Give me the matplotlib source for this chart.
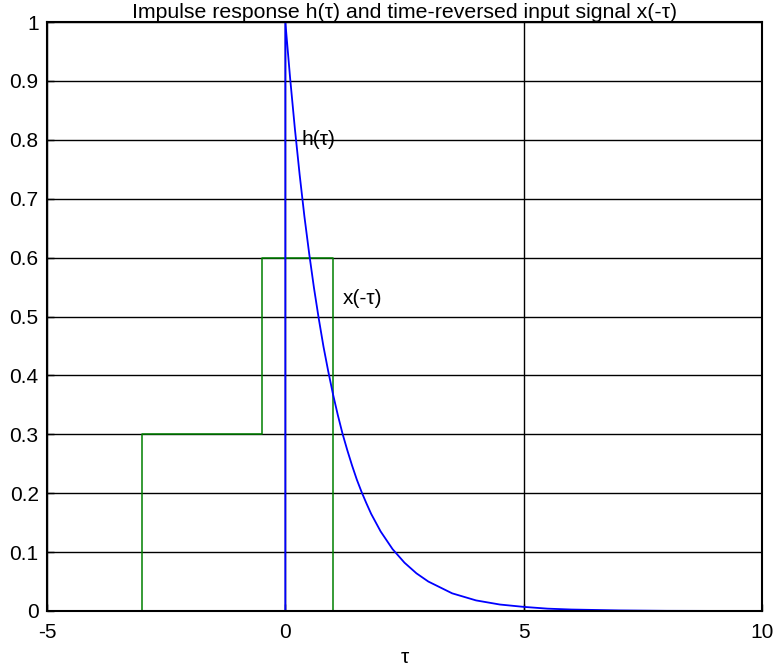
import matplotlib
matplotlib.use("Agg")
import matplotlib.pyplot as plt

plt.rcParams['font.family'] = ['Liberation Sans', 'DejaVu Sans']

# impulse response h(tau)
h_tau = [0, 0, 0.1, 0.2, 0.3, 0.4, 0.5, 0.6, 0.7, 0.8, 0.9, 1.0, 1.1, 1.2, 1.3, 1.4,
         1.5, 1.6, 1.7, 1.8, 1.9, 2.0, 2.25, 2.5, 2.75, 3.0, 3.5, 4.0, 4.5, 5.0,
         5.5, 6.0, 7.0, 8.0, 10.0]
h_val = [0, 1.0, 0.905, 0.819, 0.741, 0.670, 0.607, 0.549, 0.497, 0.449, 0.407,
         0.368, 0.333, 0.301, 0.273, 0.247, 0.223, 0.202, 0.183, 0.165, 0.150,
         0.135, 0.105, 0.082, 0.064, 0.050, 0.030, 0.018, 0.011, 0.007,
         0.004, 0.0025, 0.001, 0.0003, 0.0]

# time-reversed input x(-tau)
x_tau = [-3, -3, -0.5, -0.5, 1, 1]
x_val = [0, 0.3, 0.3, 0.6, 0.6, 0]

x_ticks = [-5, 0, 5, 10]
y_ticks = [0, 0.1, 0.2, 0.3, 0.4, 0.5, 0.6, 0.7, 0.8, 0.9, 1]
y_ticklabels = ['0', '0.1', '0.2', '0.3', '0.4', '0.5', '0.6', '0.7', '0.8', '0.9', '1']

fig = plt.figure(figsize=(7.74, 6.70), dpi=100)
ax = fig.add_axes([47/774, 59/670, 715/774, 589/670])

ax.set_xlim(-5, 10)
ax.set_ylim(0, 1)
ax.set_xticks(x_ticks)
ax.set_xticklabels([str(t) for t in x_ticks])
ax.set_yticks(y_ticks)
ax.set_yticklabels(y_ticklabels)
ax.grid(True, color='black', linewidth=1.0, linestyle='-')
ax.set_axisbelow(True)

ax.plot(x_tau, x_val, color='#008000', linewidth=1.1)
ax.plot(h_tau, h_val, color='#0000ff', linewidth=1.3)

ax.text(0.33, 0.80, 'h(\u03c4)', fontsize=15, va='center', ha='left')
ax.text(1.2, 0.53, 'x(-\u03c4)', fontsize=15, va='center', ha='left')

ax.set_title('Impulse response h(\u03c4) and time-reversed input signal x(-\u03c4)',
             fontsize=15.3, pad=3)
ax.set_xlabel('\u03c4', fontsize=15, labelpad=4)

for s in ax.spines.values():
    s.set_linewidth(1.5)
    s.set_color('black')
ax.tick_params(direction='in', length=5, width=1, labelsize=15, pad=6, colors='black')
ax.tick_params(axis='x', pad=9)

fig.savefig('out.png', dpi=100)
